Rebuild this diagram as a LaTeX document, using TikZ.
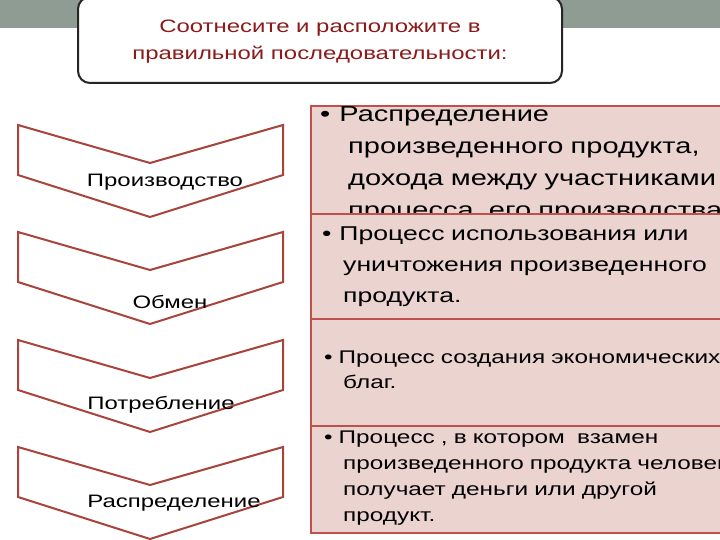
\documentclass[tikz,border=0pt]{standalone}
\usepackage{fontspec}
\setmainfont[FakeStretch=1.33]{Liberation Sans}
\definecolor{strip}{HTML}{8E9C94}
\definecolor{dred}{HTML}{8B1A1A}
\definecolor{bord}{HTML}{C0504D}
\definecolor{chevc}{HTML}{A8443C}
\definecolor{pinkf}{HTML}{EBD3D0}
\tikzset{
 chev/.style={draw=chevc,line width=2pt,fill=white,line join=miter},
 pbox/.style={draw=bord,line width=2.2pt,fill=pinkf},
 ptext/.style={anchor=north west,align=left,inner sep=0pt,text width=480pt},
 ctext/.style={font=\fontsize{18}{20}\selectfont,inner sep=0pt}
}
\begin{document}
\begin{tikzpicture}[x=1pt,y=-1pt]
\useasboundingbox (0,0) rectangle (720,540);
\clip (0,0) rectangle (720,540);
\fill[white] (0,0) rectangle (720,540);
\fill[strip] (0,0) rectangle (720,28);
\node[draw=black!85,line width=2pt,fill=white,rounded corners=12pt,minimum width=484pt,minimum height=86pt,inner sep=0pt] (title) at (320,40)
 {};
\node[text=dred,align=center,font=\fontsize{18}{27}\selectfont] (tt) at (320,42) {Соотнесите и расположите в\\правильной последовательности:};
% chevrons
\foreach \n/\dy in {a/0,b/107,c/215,d/322}{
 \draw[chev] (18,125+\dy) -- (150,163+\dy) -- (283,125+\dy) -- (283,175+\dy) -- (150,217+\dy) -- (18,175+\dy) -- cycle;
 \coordinate (\n) at (150,163+\dy);
}
\node[ctext] (t1) at (165,182) {Производство};
\node[ctext] (t2) at (170,302) {Обмен};
\node[ctext] (t3) at (161,405) {Потребление};
\node[ctext] (t4) at (174,503) {Распределение};
% boxes
\node[pbox,anchor=north west,minimum width=430pt,minimum height=108pt,inner sep=0pt] (b1) at (310,105) {};
\node[ptext,font=\fontsize{21.8}{32}\selectfont] (p1) at (320,106)
 {•\hspace{9pt}Распределение\\\hspace{28pt}произведенного продукта,\\\hspace{28pt}дохода между участниками\\\hspace{28pt}процесса, его производства};
\node[pbox,anchor=north west,minimum width=430pt,minimum height=105pt,inner sep=0pt] (b2) at (310,213) {};
\node[ptext,font=\fontsize{20}{31}\selectfont] (p2) at (322,227)
 {•\hspace{8pt}Процесс использования или\\\hspace{21pt}уничтожения произведенного\\\hspace{21pt}продукта.};
\node[pbox,anchor=north west,minimum width=430pt,minimum height=107pt,inner sep=0pt] (b3) at (310,318) {};
\node[ptext,font=\fontsize{18.3}{25}\selectfont] (p3) at (324,351)
 {•\hspace{6pt}Процесс создания экономических\\\hspace{19pt}благ.};
\node[pbox,anchor=north west,minimum width=430pt,minimum height=107pt,inner sep=0pt] (b4) at (310,425) {};
\node[ptext,font=\fontsize{18.3}{26}\selectfont] (p4) at (324,431)
 {•\hspace{6pt}Процесс , в котором\ \ взамен\\\hspace{19pt}произведенного продукта человек\\\hspace{19pt}получает деньги или другой\\\hspace{19pt}продукт.};
\end{tikzpicture}
\end{document}
